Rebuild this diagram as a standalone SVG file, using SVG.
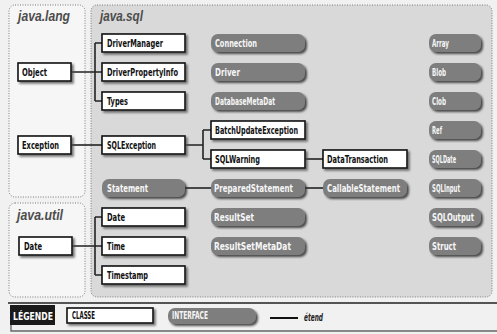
<svg xmlns="http://www.w3.org/2000/svg" width="497" height="334" viewBox="0 0 497 334">
  <defs>
    <filter id="sh" x="-10%" y="-30%" width="130%" height="180%">
      <feDropShadow dx="2" dy="2" stdDeviation="0.8" flood-color="#4a4a4a" flood-opacity="0.75"/>
    </filter>
    <filter id="sh2" x="-10%" y="-30%" width="130%" height="180%">
      <feDropShadow dx="2" dy="2" stdDeviation="0.9" flood-color="#2e2e2e" flood-opacity="0.85"/>
    </filter>
  </defs>
  <style>
    .panel { stroke:#7a7a7a; stroke-width:1; stroke-dasharray:1 1.5; }
    .title { font-family:"Liberation Sans", "DejaVu Sans", sans-serif; font-weight:bold; font-style:italic; font-size:15px; fill:#4d4d4d; }
    .lbl { font-family:"Liberation Sans Narrow", "DejaVu Sans Condensed", "Liberation Sans", sans-serif; font-weight:bold; font-size:10.5px; }
    .cls rect { fill:#fff; stroke:#111; stroke-width:1.6; filter:url(#sh); }
    .cls text { fill:#111; }
    .itf rect { fill:#7e7e7e; filter:url(#sh2); }
    .itf text { fill:#f6f6f6; }
    .wire { stroke:#222; stroke-width:1.6; fill:none; }
  </style>

  <!-- page background -->
  <rect x="0" y="0" width="497" height="334" fill="#f1f1f1"/>

  <!-- package panels -->
  <g id="pkg-java-lang">
    <rect class="panel" x="9" y="5" width="76" height="192" rx="6" fill="#f6f6f6"/>
    <text class="title" x="18" y="21" textLength="52" lengthAdjust="spacingAndGlyphs">java.lang</text>
  </g>
  <g id="pkg-java-util">
    <rect class="panel" x="9" y="203" width="76" height="94" rx="6" fill="#f6f6f6"/>
    <text class="title" x="17" y="220" textLength="46" lengthAdjust="spacingAndGlyphs">java.util</text>
  </g>
  <g id="pkg-java-sql">
    <rect class="panel" x="91" y="5" width="401" height="292" rx="6" fill="#d9d9d9"/>
    <text class="title" x="100" y="21" textLength="43" lengthAdjust="spacingAndGlyphs">java.sql</text>
  </g>

  <!-- inheritance connectors -->
  <g id="connectors">
    <path class="wire" d="M71,72 H95 M95,43 V101 M95,43 H102 M95,72 H102 M95,101 H102"/>
    <path class="wire" d="M71,145 H102"/>
    <path class="wire" d="M185,145 H203 M203,130 V159 M203,130 H211 M203,159 H211"/>
    <path class="wire" d="M305,159 H323"/>
    <path class="wire" d="M185,188 H211"/>
    <path class="wire" d="M305,188 H323"/>
    <path class="wire" d="M72,246 H95 M95,217 V275 M95,217 H102 M95,246 H102 M95,275 H102"/>
  </g>

  <!-- classes -->
  <g id="n-object" class="cls"><rect x="18" y="63" width="53" height="18"/><text class="lbl" x="22" y="75.5" textLength="25" lengthAdjust="spacingAndGlyphs">Object</text></g>
  <g id="n-exception" class="cls"><rect x="18" y="136" width="53" height="18"/><text class="lbl" x="22" y="148.5" textLength="37" lengthAdjust="spacingAndGlyphs">Exception</text></g>
  <g id="n-drivermanager" class="cls"><rect x="102" y="34" width="83" height="18"/><text class="lbl" x="107" y="46.5" textLength="56" lengthAdjust="spacingAndGlyphs">DriverManager</text></g>
  <g id="n-driverpropertyinfo" class="cls"><rect x="102" y="63" width="83" height="18"/><text class="lbl" x="107" y="75.5" textLength="71" lengthAdjust="spacingAndGlyphs">DriverPropertyInfo</text></g>
  <g id="n-types" class="cls"><rect x="102" y="92" width="83" height="18"/><text class="lbl" x="107" y="104.5" textLength="21" lengthAdjust="spacingAndGlyphs">Types</text></g>
  <g id="n-sqlexception" class="cls"><rect x="102" y="136" width="83" height="18"/><text class="lbl" x="107" y="148.5" textLength="49" lengthAdjust="spacingAndGlyphs">SQLException</text></g>
  <g id="n-batchupdateexception" class="cls"><rect x="211" y="121" width="94" height="18"/><text class="lbl" x="215" y="133.5" textLength="83" lengthAdjust="spacingAndGlyphs">BatchUpdateException</text></g>
  <g id="n-sqlwarning" class="cls"><rect x="211" y="150" width="94" height="18"/><text class="lbl" x="215" y="162.5" textLength="45" lengthAdjust="spacingAndGlyphs">SQLWarning</text></g>
  <g id="n-datatransaction" class="cls"><rect x="323" y="150" width="84" height="18"/><text class="lbl" x="327" y="162.5" textLength="61" lengthAdjust="spacingAndGlyphs">DataTransaction</text></g>
  <g id="n-sql-date" class="cls"><rect x="102" y="208" width="83" height="18"/><text class="lbl" x="107" y="220.5" textLength="18" lengthAdjust="spacingAndGlyphs">Date</text></g>
  <g id="n-time" class="cls"><rect x="102" y="237" width="83" height="18"/><text class="lbl" x="107" y="249.5" textLength="18" lengthAdjust="spacingAndGlyphs">Time</text></g>
  <g id="n-timestamp" class="cls"><rect x="102" y="266" width="83" height="18"/><text class="lbl" x="107" y="278.5" textLength="41" lengthAdjust="spacingAndGlyphs">Timestamp</text></g>
  <g id="n-util-date" class="cls"><rect x="19" y="237" width="53" height="18"/><text class="lbl" x="24" y="249.5" textLength="18" lengthAdjust="spacingAndGlyphs">Date</text></g>

  <!-- interfaces -->
  <g id="n-connection" class="itf"><rect x="211" y="34" width="94" height="18" rx="7"/><text class="lbl" x="215" y="46.5" textLength="42" lengthAdjust="spacingAndGlyphs">Connection</text></g>
  <g id="n-driver" class="itf"><rect x="211" y="63" width="94" height="18" rx="7"/><text class="lbl" x="215" y="75.5" textLength="25" lengthAdjust="spacingAndGlyphs">Driver</text></g>
  <g id="n-databasemetadat" class="itf"><rect x="211" y="92" width="94" height="18" rx="7"/><text class="lbl" x="215" y="104.5" textLength="60" lengthAdjust="spacingAndGlyphs">DatabaseMetaDat</text></g>
  <g id="n-statement" class="itf"><rect x="102" y="179" width="83" height="18" rx="7"/><text class="lbl" x="107" y="191.5" textLength="41" lengthAdjust="spacingAndGlyphs">Statement</text></g>
  <g id="n-preparedstatement" class="itf"><rect x="211" y="179" width="94" height="18" rx="7"/><text class="lbl" x="214" y="191.5" textLength="79" lengthAdjust="spacingAndGlyphs">PreparedStatement</text></g>
  <g id="n-callablestatement" class="itf"><rect x="323" y="179" width="84" height="18" rx="7"/><text class="lbl" x="327" y="191.5" textLength="73" lengthAdjust="spacingAndGlyphs">CallableStatement</text></g>
  <g id="n-resultset" class="itf"><rect x="211" y="208" width="94" height="18" rx="7"/><text class="lbl" x="214" y="220.5" textLength="40" lengthAdjust="spacingAndGlyphs">ResultSet</text></g>
  <g id="n-resultsetmetadat" class="itf"><rect x="211" y="237" width="94" height="18" rx="7"/><text class="lbl" x="214" y="249.5" textLength="77" lengthAdjust="spacingAndGlyphs">ResultSetMetaDat</text></g>
  <g id="n-array" class="itf"><rect x="429" y="34" width="52" height="18" rx="7"/><text class="lbl" x="432" y="46.5" textLength="17" lengthAdjust="spacingAndGlyphs">Array</text></g>
  <g id="n-blob" class="itf"><rect x="429" y="63" width="52" height="18" rx="7"/><text class="lbl" x="432" y="75.5" textLength="14" lengthAdjust="spacingAndGlyphs">Blob</text></g>
  <g id="n-clob" class="itf"><rect x="429" y="92" width="52" height="18" rx="7"/><text class="lbl" x="432" y="104.5" textLength="14" lengthAdjust="spacingAndGlyphs">Clob</text></g>
  <g id="n-ref" class="itf"><rect x="429" y="121" width="52" height="18" rx="7"/><text class="lbl" x="432" y="133.5" textLength="10" lengthAdjust="spacingAndGlyphs">Ref</text></g>
  <g id="n-sqldate" class="itf"><rect x="429" y="150" width="52" height="18" rx="7"/><text class="lbl" x="432" y="162.5" textLength="24" lengthAdjust="spacingAndGlyphs">SQLDate</text></g>
  <g id="n-sqlinput" class="itf"><rect x="429" y="179" width="52" height="18" rx="7"/><text class="lbl" x="432" y="191.5" textLength="28" lengthAdjust="spacingAndGlyphs">SQLInput</text></g>
  <g id="n-sqloutput" class="itf"><rect x="429" y="208" width="52" height="18" rx="7"/><text class="lbl" x="432" y="220.5" textLength="42" lengthAdjust="spacingAndGlyphs">SQLOutput</text></g>
  <g id="n-struct" class="itf"><rect x="429" y="237" width="52" height="18" rx="7"/><text class="lbl" x="432" y="249.5" textLength="24" lengthAdjust="spacingAndGlyphs">Struct</text></g>

  <!-- legend -->
  <g id="legend">
    <path d="M8,303 H497" stroke="#555" stroke-width="2" fill="none"/>
    <path d="M11,324 V331 H497" stroke="#666" stroke-width="1.4" fill="none"/>
    <rect x="10" y="305" width="45" height="20" fill="#1a1a1a"/>
    <text class="lbl" x="13" y="319.5" font-size="11" fill="#fff" textLength="40" lengthAdjust="spacingAndGlyphs">LÉGENDE</text>
    <g class="cls"><rect x="67" y="308" width="86" height="15"/><text class="lbl" x="72" y="319" font-size="8.5" textLength="23" lengthAdjust="spacingAndGlyphs">CLASSE</text></g>
    <g class="itf"><rect x="168" y="308" width="88" height="16" rx="7"/><text class="lbl" x="172" y="319" font-size="8.5" textLength="36" lengthAdjust="spacingAndGlyphs">INTERFACE</text></g>
    <path d="M270,318 H298" stroke="#111" stroke-width="2" fill="none"/>
    <text class="lbl" x="304" y="321" font-size="9" font-style="italic" fill="#222" textLength="19" lengthAdjust="spacingAndGlyphs">étend</text>
  </g>
</svg>
